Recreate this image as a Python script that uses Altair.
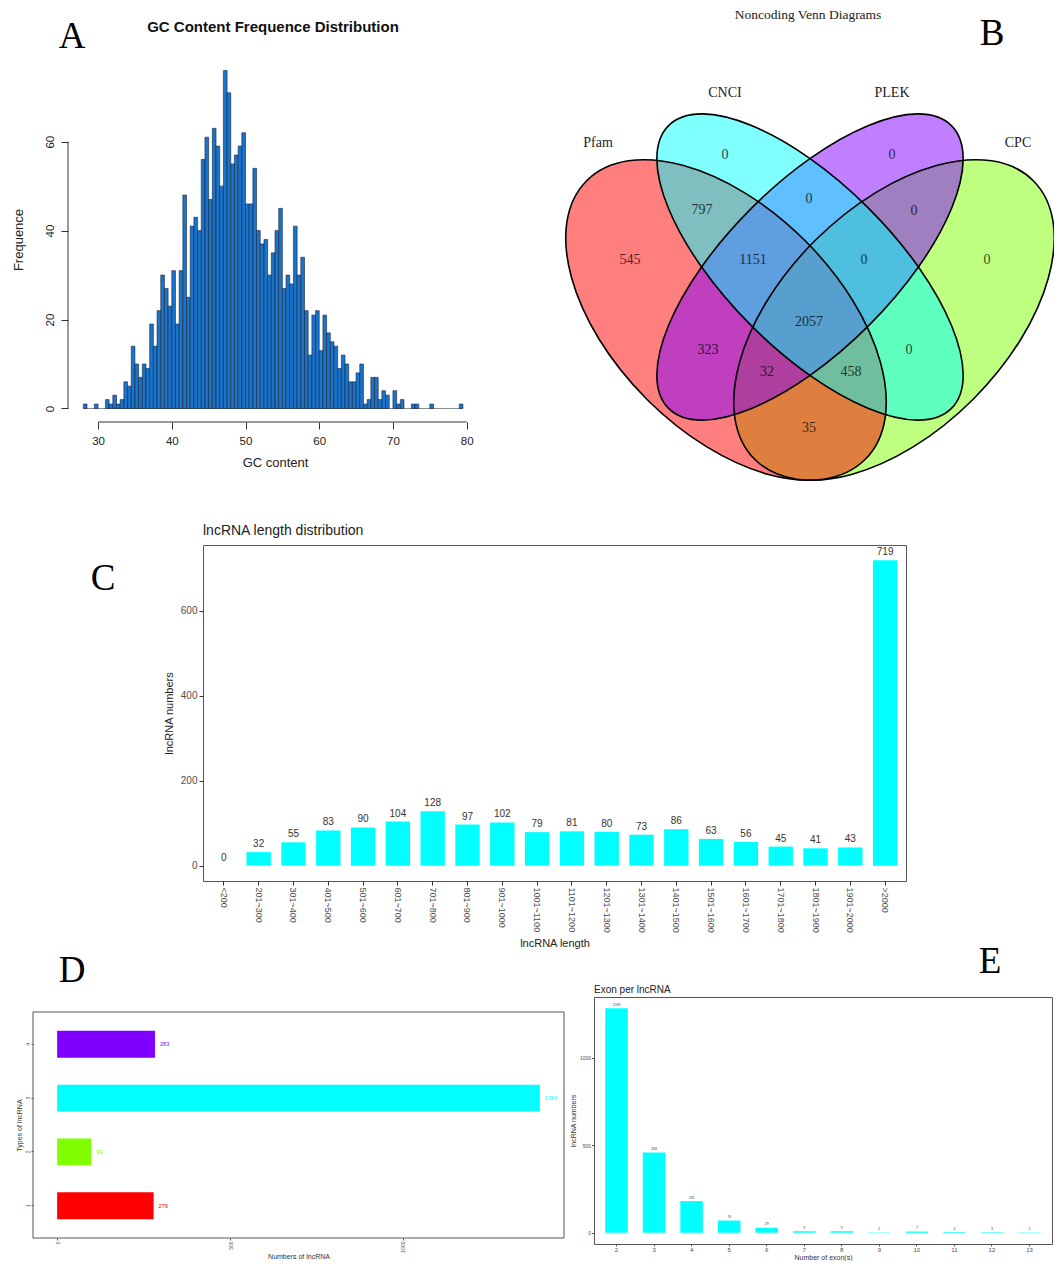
import altair as alt
import pandas as pd

SANS = "Liberation Sans"
SERIF = "Liberation Serif"

# ---------------- Panel A : GC content histogram ----------------
gc_counts = [1, 0, 0, 1, 0, 0, 2, 1, 3, 1,
             2, 6, 5, 14, 10, 7, 10, 9, 19, 14,
             22, 30, 27, 23, 31, 19, 31, 48, 25, 41,
             43, 40, 56, 61, 47, 63, 59, 50, 76, 71,
             55, 57, 59, 62, 46, 46, 54, 40, 37, 38,
             30, 35, 40, 45, 27, 30, 28, 41, 30, 34,
             22, 12, 21, 22, 13, 21, 17, 15, 14, 9,
             12, 10, 6, 6, 8, 10, 1, 2, 7, 7,
             2, 4, 3, 0, 4, 1, 2, 0, 0, 1,
             1, 0, 0, 0, 1, 0, 0, 0, 0, 0,
             0, 0, 1]
gc_first_bin = 28.0
gc_bin_width = 0.5
gc_x_ticks = [30, 40, 50, 60, 70, 80]
gc_y_ticks = [0, 20, 40, 60]

# ---------------- Panel B : Venn diagram ----------------
venn_sets = ["CPC", "Pfam", "PLEK", "CNCI"]          # drawing order
venn_fill = ["#7FFF00", "#FF0000", "#7F00FF", "#00FFFF"]
venn_cx = [339, 171, 255, 255]
venn_cy = [263, 263, 210, 210]
venn_tilt = [135, 45, 135, 45]
venn_kind = ["outer", "outer", "inner", "inner"]
venn_counts = ["545", "797", "0", "0", "0", "0", "1151", "0", "0",
               "2057", "323", "0", "32", "458", "35"]
venn_count_x = [75, 147, 170, 254, 337, 359, 198, 309, 432, 254, 153, 354, 212, 296, 254]
venn_count_y = [203, 153, 98, 142, 98, 154, 203, 203, 203, 265, 293, 293, 315, 315, 371]
venn_names = ["Pfam", "CNCI", "PLEK", "CPC"]
venn_name_x = [43, 170, 337, 463]
venn_name_y = [86, 36, 36, 86]

# ---------------- Panel C : length distribution ----------------
len_cats = ["<200", "201~300", "301~400", "401~500", "501~600", "601~700",
            "701~800", "801~900", "901~1000", "1001~1100", "1101~1200",
            "1201~1300", "1301~1400", "1401~1500", "1501~1600", "1601~1700",
            "1701~1800", "1801~1900", "1901~2000", ">2000"]
len_vals = [0, 32, 55, 83, 90, 104, 128, 97, 102, 79, 81, 80, 73, 86, 63, 56, 45, 41, 43, 719]

# ---------------- Panel D : types ----------------
type_cats = ["1", "2", "3", "4"]
type_vals = [279, 99, 1396, 283]
type_colors = ["#FF0000", "#80FF00", "#00FFFF", "#8000FF"]

# ---------------- Panel E : exons ----------------
exon_cats = ["2", "3", "4", "5", "6", "7", "8", "9", "10", "11", "12", "13"]
exon_vals = [1283, 458, 181, 70, 29, 9, 9, 2, 7, 4, 3, 2]

one = pd.DataFrame({"k": [0]})
NOFRAME = alt.ViewBackground(stroke=None)


def letter(ch, x, y):
    return alt.Chart(one).mark_text(font=SERIF, fontSize=37, color="black",
                                    align="center", baseline="middle").encode(
        x=alt.value(x), y=alt.value(y), text=alt.value(ch))


def label(txt, x, y, size, align="left", weight="normal", font=SANS, color="#222"):
    return alt.Chart(one).mark_text(font=font, fontSize=size, color=color, align=align,
                                    baseline="middle", fontWeight=weight).encode(
        x=alt.value(x), y=alt.value(y), text=alt.value(txt))


def spacer(w, h):
    return alt.Chart(one).mark_point(opacity=0, size=1).properties(width=w, height=h, view=NOFRAME)


# ===== Panel A =====
WA, HA = 414, 365
dfA = pd.DataFrame({"n": gc_counts})
dfA["x0"] = [gc_first_bin + gc_bin_width * i for i in range(len(gc_counts))]
dfA["x1"] = dfA["x0"] + gc_bin_width
dfA_nz = dfA[dfA["n"] > 0]
gc_last_edge = gc_first_bin + gc_bin_width * len(gc_counts)
xA_scale = alt.Scale(domain=[25.92, 82.08], nice=False, zero=False)
yA_scale = alt.Scale(domain=[-3.04, 79.04], nice=False, zero=False)

barsA = alt.Chart(dfA_nz).mark_rect(fill="#1874CD", stroke="#1b2433", strokeWidth=0.6).encode(
    x=alt.X("x0:Q", scale=xA_scale,
            axis=alt.Axis(values=gc_x_ticks, domain=False, grid=False, tickSize=7,
                          tickColor="#333", labelFontSize=11.5, labelColor="#222",
                          labelPadding=6, labelFont=SANS, title="GC content",
                          titleFont=SANS, titleFontSize=13, titleFontWeight="normal",
                          titleColor="#222", titlePadding=10)),
    x2="x1:Q",
    y=alt.Y("n:Q", scale=yA_scale,
            axis=alt.Axis(values=gc_y_ticks, domain=False, grid=False, tickSize=7,
                          tickColor="#333", labelFontSize=11.5, labelColor="#222",
                          labelAngle=270, labelAlign="center", labelBaseline="bottom",
                          labelPadding=6, labelFont=SANS, title="Frequence",
                          titleFont=SANS, titleFontSize=13, titleFontWeight="normal",
                          titleColor="#222", titlePadding=19)),
    y2=alt.datum(0),
)
baseA = alt.Chart(one).mark_rule(color="#888", strokeWidth=1).encode(
    x=alt.datum(gc_first_bin), x2=alt.datum(gc_last_edge), y=alt.datum(0))
yaxisA = alt.Chart(one).mark_rule(color="#333", strokeWidth=1).encode(
    x=alt.value(0), y=alt.datum(gc_y_ticks[0]), y2=alt.datum(gc_y_ticks[-1]))
xaxisA = alt.Chart(one).mark_rule(color="#333", strokeWidth=1).encode(
    y=alt.value(HA), x=alt.datum(gc_x_ticks[0]), x2=alt.datum(gc_x_ticks[-1]))
panelA = alt.layer(
    baseA, barsA, yaxisA, xaxisA,
    label("GC Content Frequence Distribution", WA / 2 - 2, -30, 15, align="center",
          weight="bold", color="#111"),
    letter("A", 4, -20),
).properties(width=WA, height=HA, view=NOFRAME)

# ===== Panel B =====
WB, HB = 499, 425
dfV = pd.DataFrame({"set": venn_sets, "cx": venn_cx, "cy": venn_cy,
                    "tilt": venn_tilt, "kind": venn_kind})
xVs = alt.Scale(domain=[0, WB], nice=False, zero=False)
yVs = alt.Scale(domain=[0, HB], nice=False, zero=False, reverse=True)
xV = alt.X("cx:Q", scale=xVs, axis=None)
yV = alt.Y("cy:Q", scale=yVs, axis=None)
OUTER_SHAPE = "M -1 0 A 1 0.5685 0 1 0 1 0 A 1 0.5685 0 1 0 -1 0 Z"
INNER_SHAPE = "M -1 0 A 1 0.415 0 1 0 1 0 A 1 0.415 0 1 0 -1 0 Z"
OUTER_SIZE = 4 * 197 ** 2
INNER_SIZE = 4 * 200 ** 2
venn_color = alt.Color("set:N", scale=alt.Scale(domain=venn_sets, range=venn_fill), legend=None)


def ell(kind, shape, size, filled):
    d = dfV[dfV["kind"] == kind]
    if filled:
        m = alt.Chart(d).mark_point(shape=shape, size=size, filled=True, fillOpacity=0.5,
                                    strokeWidth=0, opacity=1, clip=True)
        return m.encode(x=xV, y=yV, angle=alt.Angle("tilt:Q", scale=None), color=venn_color)
    m = alt.Chart(d).mark_point(shape=shape, size=size, filled=False, strokeWidth=1.6,
                                opacity=1, color="black", clip=True)
    return m.encode(x=xV, y=yV, angle=alt.Angle("tilt:Q", scale=None))


dfVC = pd.DataFrame({"lab": venn_counts, "lx": venn_count_x, "ly": venn_count_y})
dfVN = pd.DataFrame({"lab": venn_names, "lx": venn_name_x, "ly": venn_name_y})
countsB = alt.Chart(dfVC).mark_text(font=SERIF, fontSize=14, color="black", opacity=0.72,
                                    align="center", baseline="middle").encode(
    x=alt.X("lx:Q", scale=xVs, axis=None), y=alt.Y("ly:Q", scale=yVs, axis=None), text="lab:N")
namesB = alt.Chart(dfVN).mark_text(font=SERIF, fontSize=14, color="#222",
                                   align="center", baseline="middle").encode(
    x=alt.X("lx:Q", scale=xVs, axis=None), y=alt.Y("ly:Q", scale=yVs, axis=None), text="lab:N")
panelB = alt.layer(
    ell("outer", OUTER_SHAPE, OUTER_SIZE, True),
    ell("inner", INNER_SHAPE, INNER_SIZE, True),
    ell("outer", OUTER_SHAPE, OUTER_SIZE, False),
    ell("inner", INNER_SHAPE, INNER_SIZE, False),
    countsB, namesB,
    label("Noncoding Venn Diagrams", 253, -42, 13.5, align="center", font=SERIF),
    letter("B", 437, -23),
).properties(width=WB, height=HB, view=NOFRAME)

# ===== Panel C =====
WC, HC = 703, 336
dfC = pd.DataFrame({"cat": len_cats, "n": len_vals})
xC = alt.X("cat:N", sort=len_cats, scale=alt.Scale(paddingInner=0.3, paddingOuter=0.25),
           axis=alt.Axis(labelAngle=90, labelFontSize=9, labelColor="#4D4D4D", labelFont=SANS,
                         tickSize=4, tickColor="#333", labelPadding=2, domain=False, grid=False,
                         title="lncRNA length", titleFont=SANS, titleFontSize=11,
                         titleFontWeight="normal", titleColor="#222", titlePadding=5))
yC = alt.Y("n:Q", scale=alt.Scale(domain=[-36, 755], nice=False, zero=False),
           axis=alt.Axis(values=[0, 200, 400, 600], format="d", labelFontSize=10,
                         labelColor="#4D4D4D",
                         labelFont=SANS, tickSize=4, tickColor="#333", labelPadding=2,
                         domain=False, grid=False, title="lncRNA numbers", titleFont=SANS,
                         titleFontSize=11, titleFontWeight="normal", titleColor="#222",
                         titlePadding=6))
barsC = alt.Chart(dfC).mark_bar(color="#00FFFF").encode(x=xC, y=yC, y2=alt.datum(0))
textC = alt.Chart(dfC).mark_text(font=SANS, fontSize=10, color="#333", baseline="bottom",
                                 dy=-3).encode(x=xC, y=yC, text="n:Q")
panelC = alt.layer(
    barsC, textC,
    label("lncRNA length distribution", 0, -14, 14),
    letter("C", -100, 34),
    # panel D / E headings (placed here so that the rows can sit close together)
    letter("D", -131, 426),
    letter("E", 787, 417),
    label("Exon per lncRNA", 391, 445, 10),
).properties(width=WC, height=HC)

# ===== Panel D =====
WD, HD = 531, 241
D_TOP = 15
dfD = pd.DataFrame({"type": type_cats, "n": type_vals, "col": type_colors})
yD = alt.Y("type:N", sort=list(reversed(type_cats)),
           scale=alt.Scale(range=[D_TOP, HD], paddingInner=0.5, paddingOuter=0.35),
           axis=alt.Axis(labelAngle=270, labelFontSize=5, labelColor="#4D4D4D", labelFont=SANS,
                         tickSize=2, tickColor="#555", labelPadding=1, domain=False, grid=False,
                         title="Types of lncRNA", titleFont=SANS, titleFontSize=7,
                         titleFontWeight="normal", titleColor="#333", titlePadding=3))
xD = alt.X("n:Q", scale=alt.Scale(domain=[-69.8, 1465.8], nice=False, zero=False),
           axis=alt.Axis(values=[0, 500, 1000], format="d", labelAngle=270, labelFontSize=5,
                         labelColor="#4D4D4D", labelFont=SANS, tickSize=2, tickColor="#555",
                         labelPadding=1, domain=False, grid=False, title="Numbers of lncRNA",
                         titleFont=SANS, titleFontSize=7, titleFontWeight="normal",
                         titleColor="#333", titlePadding=0.5))
colD = alt.Color("col:N", scale=None, legend=None)
frameD = alt.Chart(one).mark_rect(fillOpacity=0, stroke="#555", strokeWidth=1).encode(
    x=alt.value(0), x2=alt.value(WD), y=alt.value(D_TOP), y2=alt.value(HD))
barsD = alt.Chart(dfD).mark_bar().encode(y=yD, x=xD, x2=alt.datum(0), color=colD)
textD = alt.Chart(dfD).mark_text(font=SANS, fontSize=5.6, align="left", dx=5).encode(
    y=yD, x=xD, text="n:Q", color=colD)
panelD = alt.layer(frameD, barsD, textD).properties(width=WD, height=HD, view=NOFRAME)

# ===== Panel E =====
WE, HE = 458, 247
dfE = pd.DataFrame({"ex": exon_cats, "n": exon_vals})
xE = alt.X("ex:N", sort=exon_cats, scale=alt.Scale(paddingInner=0.4, paddingOuter=0.3),
           axis=alt.Axis(labelAngle=0, labelFontSize=6, labelColor="#4D4D4D", labelFont=SANS,
                         tickSize=2, tickColor="#555", labelPadding=0.5, domain=False, grid=False,
                         title="Number of exon(s)", titleFont=SANS, titleFontSize=7,
                         titleFontWeight="normal", titleColor="#333", titlePadding=0.5))
yE = alt.Y("n:Q", scale=alt.Scale(domain=[-64, 1347], nice=False, zero=False),
           axis=alt.Axis(values=[0, 500, 1000], format="d", labelFontSize=5,
                         labelColor="#4D4D4D",
                         labelFont=SANS, tickSize=2.5, tickColor="#555", labelPadding=1,
                         domain=False, grid=False, title="lncRNA numbers", titleFont=SANS,
                         titleFontSize=7, titleFontWeight="normal", titleColor="#333",
                         titlePadding=3))
barsE = alt.Chart(dfE).mark_bar(color="#00FFFF").encode(x=xE, y=yE, y2=alt.datum(0))
textE = alt.Chart(dfE).mark_text(font=SANS, fontSize=3.5, color="#444", baseline="bottom",
                                 dy=-1.5).encode(x=xE, y=yE, text="n:Q")
panelE = alt.layer(barsE, textE).properties(width=WE, height=HE)

# ===== Layout =====
row1 = alt.hconcat(spacer(60, 1), panelA, spacer(73, 1), panelB, spacing=0, bounds="flush")
row2 = alt.hconcat(spacer(195, 1), panelC, spacing=0, bounds="flush")
row3 = alt.hconcat(spacer(25, 1), panelD, spacer(30, 1), panelE, spacing=0, bounds="flush")

chart = alt.vconcat(row1, spacer(1, 41), row2, row3,
                    spacing=0).properties(
    padding={"left": 0, "top": 0, "right": 0, "bottom": 0},
    background="white",
).configure_view(stroke="#555", strokeWidth=1)

chart.save("out.html", embed_options={"renderer": "svg", "actions": False})
